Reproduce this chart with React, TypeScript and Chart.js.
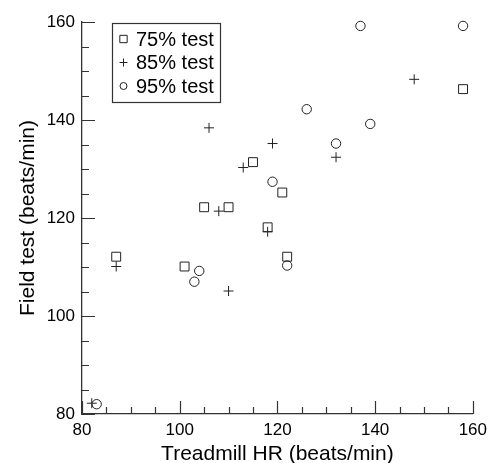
import React, { useEffect, useRef } from "react";
import { Chart, registerables } from "chart.js";

Chart.register(...registerables);

const seriesLabels = ["75% test", "85% test", "95% test"];
const seriesStyles = ["rect", "cross", "circle"];
const test75X = [87, 101, 105, 110, 115, 118, 121, 122, 158];
const test75Y = [112.1, 110.1, 122.2, 122.2, 131.4, 118.1, 125.2, 112.1, 146.3];
const test85X = [82, 87, 106, 108, 110, 113, 118, 119, 132, 148];
const test85Y = [82.2, 110.1, 138.4, 121.4, 105.1, 130.3, 117.2, 135.2, 132.4, 148.3];
const test95X = [83, 103, 104, 119, 122, 126, 132, 137, 139, 158];
const test95Y = [82, 107, 109.2, 127.4, 110.3, 142.2, 135.2, 159.2, 139.2, 159.2];
const axisMin = 80;
const axisMax = 160;
const majorStep = 20;
const minorStep = 5;
const xTitle = "Treadmill HR (beats/min)";
const yTitle = "Field test (beats/min)";

const FONT = "'Liberation Sans', Arial, Helvetica, sans-serif";
const INK = "#222";
const AXIS = "#333";

const toPoints = (xs: number[], ys: number[]) => xs.map((x, i) => ({ x, y: ys[i] }));

function drawMarker(ctx: CanvasRenderingContext2D, style: string, x: number, y: number, r: number) {
  ctx.beginPath();
  if (style === "rect") {
    const s = r * Math.SQRT1_2;
    ctx.rect(x - s, y - s, 2 * s, 2 * s);
  } else if (style === "cross") {
    ctx.moveTo(x - r, y);
    ctx.lineTo(x + r, y);
    ctx.moveTo(x, y - r);
    ctx.lineTo(x, y + r);
  } else {
    ctx.arc(x, y, r, 0, Math.PI * 2);
  }
  ctx.stroke();
}

const innerTicks = {
  id: "innerTicks",
  afterDraw(chart: any) {
    const { ctx, chartArea } = chart;
    const xs = chart.scales.x;
    const ys = chart.scales.y;
    ctx.save();
    ctx.strokeStyle = AXIS;
    ctx.lineWidth = 1.2;
    ctx.beginPath();
    for (let v = axisMin; v <= axisMax; v += minorStep) {
      const len = v % majorStep === 0 ? 13 : 7;
      const px = Math.round(xs.getPixelForValue(v)) + 0.5;
      ctx.moveTo(px, chartArea.bottom);
      ctx.lineTo(px, chartArea.bottom - len);
      const py = Math.round(ys.getPixelForValue(v)) + 0.5;
      ctx.moveTo(chartArea.left, py);
      ctx.lineTo(chartArea.left + len, py);
    }
    ctx.stroke();
    ctx.restore();
  },
};

const boxedLegend = {
  id: "boxedLegend",
  afterDraw(chart: any) {
    const { ctx, chartArea } = chart;
    const left = chartArea.left + 30;
    const top = chartArea.top + 1;
    const w = 108;
    const h = 79;
    ctx.save();
    ctx.fillStyle = "#fff";
    ctx.fillRect(left, top, w, h);
    ctx.strokeStyle = AXIS;
    ctx.lineWidth = 1.2;
    ctx.strokeRect(left + 0.5, top + 0.5, w, h);
    ctx.font = `20px ${FONT}`;
    ctx.textBaseline = "middle";
    ctx.textAlign = "left";
    const radii = [5.2, 4, 3.5];
    chart.data.datasets.forEach((ds: any, i: number) => {
      const cy = top + 16 + i * 23.5;
      ctx.strokeStyle = INK;
      ctx.lineWidth = 1;
      drawMarker(ctx, ds.pointStyle, left + 11.5, cy, radii[i]);
      ctx.fillStyle = "#000";
      ctx.fillText(ds.label, left + 24, cy + 1);
    });
    ctx.restore();
  },
};

export default function App() {
  const ref = useRef<HTMLCanvasElement | null>(null);

  useEffect(() => {
    if (!ref.current) return;
    const mk = (i: number, xs: number[], ys: number[], r: number) => ({
      label: seriesLabels[i],
      data: toPoints(xs, ys),
      pointStyle: seriesStyles[i],
      pointRadius: r,
      pointHoverRadius: r,
      borderColor: INK,
      backgroundColor: "rgba(0,0,0,0)",
      pointBorderWidth: 1,
      showLine: false,
      clip: false,
    });
    const chart = new Chart(ref.current, {
      type: "scatter",
      data: {
        datasets: [
          mk(0, test75X, test75Y, 6.3),
          mk(1, test85X, test85Y, 5),
          mk(2, test95X, test95Y, 4.7),
        ],
      },
      options: {
        animation: false,
        responsive: false,
        devicePixelRatio: 1,
        layout: { padding: { left: 0, right: 14, top: 22, bottom: 0 } },
        plugins: { legend: { display: false }, tooltip: { enabled: false } },
        scales: {
          x: {
            type: "linear",
            min: axisMin,
            max: axisMax,
            afterFit: (s: any) => {
              s.height = 49;
            },
            grid: { display: false, drawTicks: false },
            border: { display: true, color: AXIS, width: 1.3 },
            ticks: {
              stepSize: majorStep,
              padding: 6,
              color: "#000",
              maxRotation: 0,
              font: { family: FONT, size: 17 },
            },
            title: {
              display: true,
              text: xTitle,
              color: "#000",
              font: { family: FONT, size: 21, lineHeight: 1 },
              padding: { top: 0, bottom: -2 },
            },
          },
          y: {
            type: "linear",
            min: axisMin,
            max: axisMax,
            afterFit: (s: any) => {
              s.width = 82;
            },
            grid: { display: false, drawTicks: false },
            border: { display: true, color: AXIS, width: 1.3 },
            ticks: {
              stepSize: majorStep,
              padding: 7,
              color: "#000",
              font: { family: FONT, size: 17 },
            },
            title: {
              display: true,
              text: yTitle,
              color: "#000",
              font: { family: FONT, size: 21, lineHeight: 1 },
              padding: { top: 18, bottom: 0 },
            },
          },
        },
      },
      plugins: [innerTicks, boxedLegend],
    } as any);
    return () => chart.destroy();
  }, []);

  return (
    <div style={{ position: "absolute", left: 0, top: 0, width: 493, height: 463, background: "#fff" }}>
      <canvas ref={ref} width={493} height={463} style={{ width: 493, height: 463, display: "block" }} />
    </div>
  );
}
